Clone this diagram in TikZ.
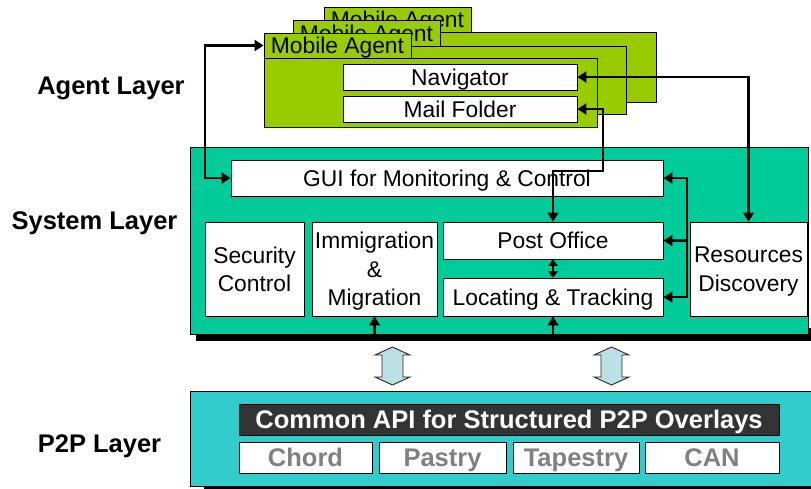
\documentclass[tikz,border=0pt]{standalone}
\usepackage{fontspec}
\setmainfont{Liberation Sans}
\usetikzlibrary{arrows.meta}
\definecolor{agentgreen}{HTML}{99CC00}
\definecolor{systeal}{HTML}{00CC99}
\definecolor{ptwoteal}{HTML}{33CCCC}
\definecolor{blockfill}{HTML}{BBE0E3}
\definecolor{apidark}{HTML}{333333}
\definecolor{greytext}{HTML}{808080}
\newcommand{\regfont}{\fontsize{22.8}{28.5}\selectfont}
\newcommand{\labfont}{\fontsize{25.5}{30}\selectfont\bfseries}
\begin{document}
\begin{tikzpicture}[x=1pt,y=-1pt,
  >={Triangle[length=9pt,width=11pt]},
  thinbox/.style={draw=black, line width=0.9pt, inner sep=0pt, font=\regfont, align=center},
  whitebox/.style={thinbox, fill=white},
  onelinetext/.style={text height=16.3pt, text depth=0pt},
  multitext/.style={text depth=0pt},
  agentbody/.style={thinbox, fill=agentgreen, minimum width=333, minimum height=69},
  agenttab/.style={thinbox, fill=agentgreen, minimum width=147, minimum height=25, onelinetext},
  layerlabel/.style={font=\labfont, inner sep=0pt, text height=18.3pt, text depth=0pt},
  sysbox/.style={draw=black, line width=0.9pt, fill=systeal, inner sep=0pt},
  ptwobox/.style={draw=black, line width=0.9pt, fill=ptwoteal, inner sep=0pt},
  overlaybox/.style={draw=black, line width=0.9pt, fill=white, inner sep=0pt,
     minimum height=31, font=\labfont, text=greytext, text height=18.3pt, text depth=0pt},
  conn/.style={line width=2.5pt, black, line join=miter},
  blockarrow/.style={draw=black!85, line width=0.9pt, fill=blockfill, line join=miter}
]
\useasboundingbox (0,0) rectangle (811,489);

% layer labels
\node[layerlabel] (lagent) at (111,85) {Agent Layer};
\node[layerlabel] (lsystem) at (94.5,220) {System Layer};
\node[layerlabel] (lptwo) at (99.5,443) {P2P Layer};

% agent layer: three stacked mobile agents
\node[agentbody, minimum width=332, minimum height=70] (body3) at (490,67) {};
\node[agenttab] (tab3) at (397.5,19.5) {Mobile Agent};
\node[agentbody, minimum height=68] (body2) at (459.5,80) {};
\node[agenttab, minimum height=26] (tab2) at (366.5,33) {Mobile Agent};
\node[agentbody] (body1) at (430.5,92.5) {};
\node[agenttab] (tab1) at (337.5,45.5) {Mobile Agent};
\node[whitebox, onelinetext, minimum width=234, minimum height=26] (nav) at (460,77) {Navigator};
\node[whitebox, onelinetext, minimum width=234, minimum height=26] (mail) at (460,109) {Mail Folder};

% system layer
\fill[black] (196,328) rectangle (812,341);
\node[sysbox, minimum width=618, minimum height=187] (sys) at (499,240.5) {};
\node[whitebox, onelinetext, minimum width=432, minimum height=36] (gui) at (447,178) {GUI for Monitoring \& Control};
\node[whitebox, multitext, minimum width=99, minimum height=94] (sec) at (254.5,269) {Security\\Control};
\node[whitebox, multitext, minimum width=125, minimum height=94] (imm) at (374.5,269) {Immigration\\\&\\Migration};
\node[whitebox, onelinetext, minimum width=220, minimum height=37] (post) at (553,240.5) {Post Office};
\node[whitebox, onelinetext, minimum width=220, minimum height=38] (loc) at (553,297) {Locating \& Tracking};
\node[whitebox, multitext, minimum width=117, minimum height=94] (res) at (748.5,269) {Resources\\Discovery};

% p2p layer
\fill[black] (204,480) rectangle (812,495);
\node[ptwobox, minimum width=625, minimum height=95] (ptwo) at (502.5,438.5) {};
\node[draw=black, line width=0.9pt, fill=apidark, inner sep=0pt, minimum width=540, minimum height=31,
      font=\labfont, text=white, text height=18.3pt, text depth=0pt] (api) at (509,419.5)
      {Common API for Structured P2P Overlays};
\node[overlaybox, minimum width=133] (chord) at (305.5,457.5) {Chord};
\node[overlaybox, minimum width=127] (pastry) at (442.5,457.5) {Pastry};
\node[overlaybox, minimum width=126] (tapestry) at (576,457.5) {Tapestry};
\node[overlaybox, minimum width=134] (can) at (712,457.5) {CAN};

% block double arrows between system and p2p layers
\coordinate (ba1) at (392.5,366);
\coordinate (ba2) at (611.5,366);
\foreach \c in {ba1,ba2}{
  \draw[blockarrow] (\c) ++(0,-19) -- ++(17.5,8) -- ++(-7,0) -- ++(0,22) -- ++(7,0)
     -- ++(-17.5,8) -- ++(-17.5,-8) -- ++(7,0) -- ++(0,-22) -- ++(-7,0) -- cycle;
}

% connectors
\coordinate (lft) at (205,0);
\draw[conn,<->] (tab1.west) -- (tab1.west -| lft) |- (gui.west);
\coordinate (mx) at (603,171);
\draw[conn,<->] (mail.east) -| (mx) -| (post.north);
\draw[conn,<->] (nav.east) -| (res.north);
\coordinate (bus) at (687,0);
\draw[conn,<->] (gui.east) -| (bus |- loc.east) -- (loc.east);
\draw[conn,->] (bus |- post.east) -- (post.east);
\draw[conn,<->,>={Triangle[length=6.5pt,width=10pt]}] (post.south) -- (loc.north);
\coordinate (by) at (0,340);
\draw[conn,<->] (imm.south) -- (imm.south |- by) -- (loc.south |- by) -- (loc.south);
\end{tikzpicture}
\end{document}
